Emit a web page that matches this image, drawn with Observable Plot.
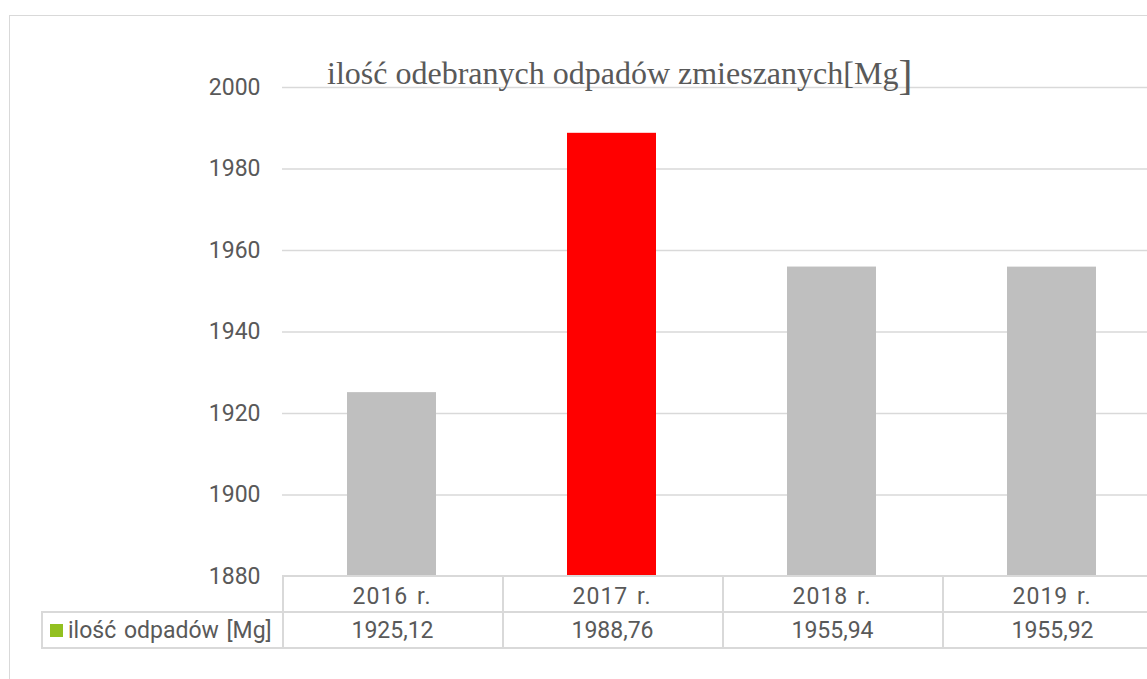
<!DOCTYPE html>
<html><head><meta charset="utf-8">
<script src="https://cdn.jsdelivr.net/npm/d3@7"></script>
<script src="https://cdn.jsdelivr.net/npm/@observablehq/plot@0.6"></script>
<style>
html,body{margin:0;padding:0;background:#fff;overflow:hidden;}
#wrap{position:relative;width:1147px;height:679px;overflow:hidden;background:#fff;font-family:Roboto,sans-serif;color:#595959;}
#frame{position:absolute;left:9px;top:15px;width:2000px;height:2000px;border-left:1.5px solid #d9d9d9;border-top:1.5px solid #d9d9d9;}
#chart{position:absolute;left:0;top:0;}
#chart g[aria-label="x-axis tick label"] text{word-spacing:2px;letter-spacing:1px;}
#titleSvg{position:absolute;left:0;top:0;}
#tbl{position:absolute;border-collapse:collapse;table-layout:fixed;font-size:23px;color:#595959;}
#tbl td{border:2px solid #d9d9d9;height:36px;padding:0;text-align:center;white-space:nowrap;box-sizing:border-box;overflow:hidden;}
</style></head>
<body><div id="wrap"><div id="frame"></div><div id="chart"></div></div>
<script>
const categories = ["2016 r.", "2017 r.", "2018 r.", "2019 r."];
const values = [1925.12, 1988.76, 1955.94, 1955.92];
const valueLabels = ["1925,12", "1988,76", "1955,94", "1955,92"];
const barColors = ["#bfbfbf", "#ff0000", "#bfbfbf", "#bfbfbf"];
const yTicks = [1880, 1900, 1920, 1940, 1960, 1980, 2000];
const seriesName = "ilość odpadów [Mg]";
const legendColor = "#92c020";
const titleMain = "ilość odebranych odpadów zmieszanych[Mg";
const titleEnd = "]";

const data = categories.map((c, i) => ({cat: c, value: values[i], color: barColors[i]}));
const W = 1180, H = 679;
const chart = Plot.plot({
  width: W, height: H,
  marginLeft: 282, marginRight: W - 1162, marginTop: 87, marginBottom: H - 576,
  style: {fontFamily: "Roboto, sans-serif", fontSize: "23px", color: "#595959", background: "transparent", maxWidth: "none"},
  x: {domain: categories, paddingInner: 0.595, paddingOuter: 0.2975, axis: null, label: null},
  y: {domain: [1880, 2000], axis: null, label: null},
  color: {type: "identity"},
  marks: [
    Plot.gridY(yTicks.filter(t => t > 1880), {stroke: "#d9d9d9", strokeOpacity: 1, strokeWidth: 1.3}),
    Plot.barY(data, {x: "cat", y1: 1880, y2: "value", fill: "color"}),
    Plot.axisY(yTicks, {tickSize: 0, tickPadding: 22, fontSize: 23, label: null, tickFormat: d => String(d)}),
    Plot.axisX({tickSize: 0, tickPadding: 11, fontSize: 23, label: null})
  ]
});
document.getElementById("chart").appendChild(chart);

// data table below the plot
const xs = chart.scale("x");
const step = xs.step, bw = xs.bandwidth;
const edge0 = xs.apply(categories[0]) - (step - bw) / 2;
const tblLeft = 41;
const tbl = document.createElement("table");
tbl.id = "tbl";
tbl.style.left = tblLeft + "px";
tbl.style.top = "575px";
const cg = document.createElement("colgroup");
[edge0 - tblLeft, ...categories.map(() => step)].forEach(w => {
  const c = document.createElement("col"); c.style.width = w + "px"; cg.appendChild(c);
});
tbl.appendChild(cg);
tbl.style.width = (edge0 - tblLeft + step * categories.length) + "px";
const r1 = document.createElement("tr");
const e = document.createElement("td"); e.style.borderTop = "none"; e.style.borderLeft = "none"; r1.appendChild(e);
categories.forEach(() => r1.appendChild(document.createElement("td")));
const r2 = document.createElement("tr");
const lab = document.createElement("td");
lab.style.textAlign = "left"; lab.style.paddingLeft = "7px"; lab.style.wordSpacing = "2px";
lab.innerHTML = `<span style="display:inline-block;width:13px;height:13px;background:${legendColor};margin-right:5px;vertical-align:1px"></span>${seriesName}`;
r2.appendChild(lab);
valueLabels.forEach(v => { const td = document.createElement("td"); td.textContent = v; r2.appendChild(td); });
tbl.appendChild(r1); tbl.appendChild(r2);
document.getElementById("wrap").appendChild(tbl);

// title
const ns = "http://www.w3.org/2000/svg";
const ts = document.createElementNS(ns, "svg");
ts.id = "titleSvg"; ts.setAttribute("width", 1147); ts.setAttribute("height", 120);
const t = document.createElementNS(ns, "text");
t.setAttribute("x", 327); t.setAttribute("y", 84);
t.setAttribute("font-family", "'Liberation Serif', 'Times New Roman', serif");
t.setAttribute("font-size", 32); t.setAttribute("fill", "#595959");
t.appendChild(document.createTextNode(titleMain));
const sp = document.createElementNS(ns, "tspan");
sp.setAttribute("font-size", 42); sp.setAttribute("dy", 5); sp.textContent = titleEnd;
t.appendChild(sp);
ts.appendChild(t);
document.getElementById("wrap").appendChild(ts);
</script></body></html>
